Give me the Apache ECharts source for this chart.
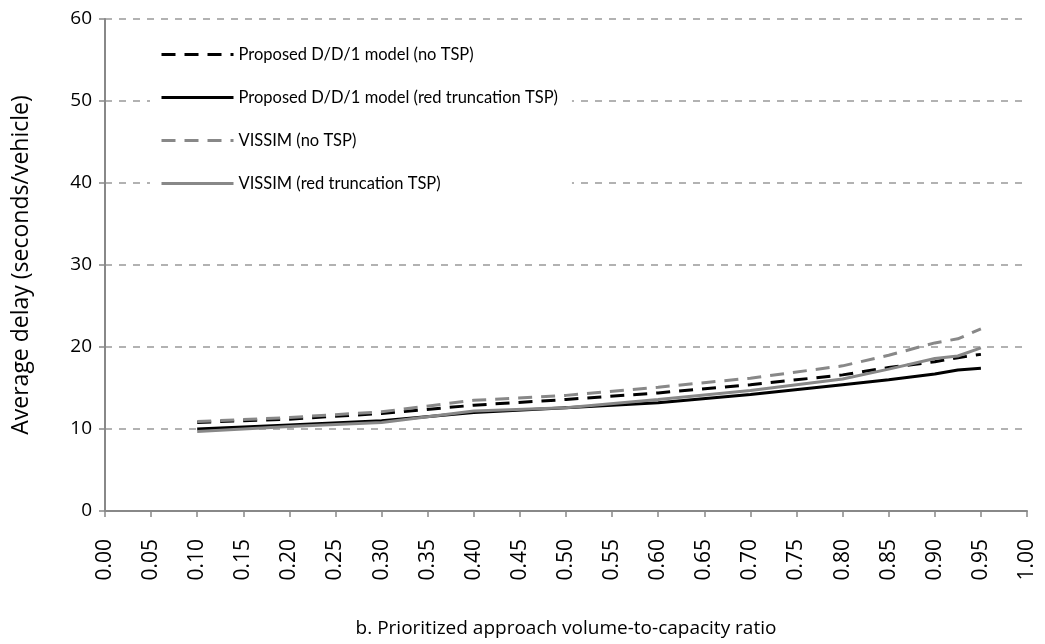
<!DOCTYPE html>
<html>
<head>
<meta charset="utf-8">
<script src="https://cdn.jsdelivr.net/npm/echarts@6/dist/echarts.min.js"></script>
<style>html,body{margin:0;padding:0;background:#fff}#c{width:1045px;height:644px}</style>
</head>
<body>
<div id="c"></div>
<script>
const xValues = [0.10, 0.20, 0.30, 0.40, 0.50, 0.60, 0.70, 0.80, 0.85, 0.90, 0.925, 0.95];
const ddNoTsp   = [10.8, 11.2, 11.9, 12.9, 13.6, 14.4, 15.4, 16.6, 17.5, 18.2, 18.7, 19.1];
const ddRedTsp  = [10.0, 10.5, 11.0, 12.0, 12.6, 13.2, 14.2, 15.4, 16.0, 16.7, 17.2, 17.4];
const visNoTsp  = [10.9, 11.4, 12.1, 13.5, 14.1, 15.1, 16.2, 17.7, 19.0, 20.5, 21.0, 22.2];
const visRedTsp = [9.7, 10.3, 10.8, 12.2, 12.6, 13.6, 14.7, 16.1, 17.3, 18.6, 18.9, 19.9];
const seriesNames = [
  'Proposed D/D/1 model (no TSP)',
  'Proposed D/D/1 model (red truncation TSP)',
  'VISSIM (no TSP)',
  'VISSIM (red truncation TSP)'
];
const xAxisTitle = 'b. Prioritized approach volume-to-capacity ratio';
const yAxisTitle = 'Average delay (seconds/vehicle)';

const LEGFONT = 'Lato, "Open Sans", sans-serif';
const FONT = '"Open Sans", "Liberation Sans", sans-serif';
const pair = arr => xValues.map((x, i) => [x, arr[i]]);
const mk = (name, arr, color, dashed) => ({
  name, type: 'line', data: pair(arr), symbol: 'none', smooth: false,
  lineStyle: { color, width: 3, type: dashed ? [14, 9] : 'solid' },
  itemStyle: { color }
});

const chart = echarts.init(document.getElementById('c'));
chart.setOption({
  animation: false,
  backgroundColor: '#fff',
  grid: { left: 105, right: 18, top: 19, bottom: 133, outerBoundsMode: 'none', containLabel: false },
  legend: {
    orient: 'vertical', left: 150, top: 42, itemWidth: 72, itemHeight: 17, itemGap: 26,
    backgroundColor: '#fff', padding: [4, 14, 4, 10],
    itemStyle: { opacity: 0 },
    lineStyle: { width: 3 },
    textStyle: { fontFamily: LEGFONT, fontSize: 16.5, color: '#000' },
    data: seriesNames
  },
  xAxis: {
    type: 'value', min: 0, max: 1, interval: 0.05,
    name: xAxisTitle, nameLocation: 'middle', nameGap: 108,
    nameTextStyle: { fontFamily: FONT, fontSize: 19, color: '#000' },
    axisLine: { lineStyle: { color: '#888', width: 2 } },
    axisTick: { show: true, length: 6, lineStyle: { color: '#888', width: 1.5 } },
    axisLabel: { rotate: 90, fontFamily: FONT, fontSize: 21, color: '#000', margin: 28,
      formatter: v => v.toFixed(2) },
    splitLine: { show: false }
  },
  yAxis: {
    type: 'value', min: 0, max: 60, interval: 10,
    name: yAxisTitle, nameLocation: 'middle', nameGap: 72,
    nameTextStyle: { fontFamily: FONT, fontSize: 23, color: '#000' },
    axisLine: { show: true, lineStyle: { color: '#888', width: 2 } },
    axisTick: { show: true, length: 6, lineStyle: { color: '#888', width: 1.5 } },
    axisLabel: { fontFamily: FONT, fontSize: 19, color: '#000', margin: 13 },
    splitLine: { show: true, lineStyle: { color: '#999', width: 1.5, type: [7, 7] } }
  },
  series: [
    mk(seriesNames[0], ddNoTsp, '#000', true),
    mk(seriesNames[1], ddRedTsp, '#000', false),
    mk(seriesNames[2], visNoTsp, '#888', true),
    mk(seriesNames[3], visRedTsp, '#888', false)
  ]
});
</script>
</body>
</html>
